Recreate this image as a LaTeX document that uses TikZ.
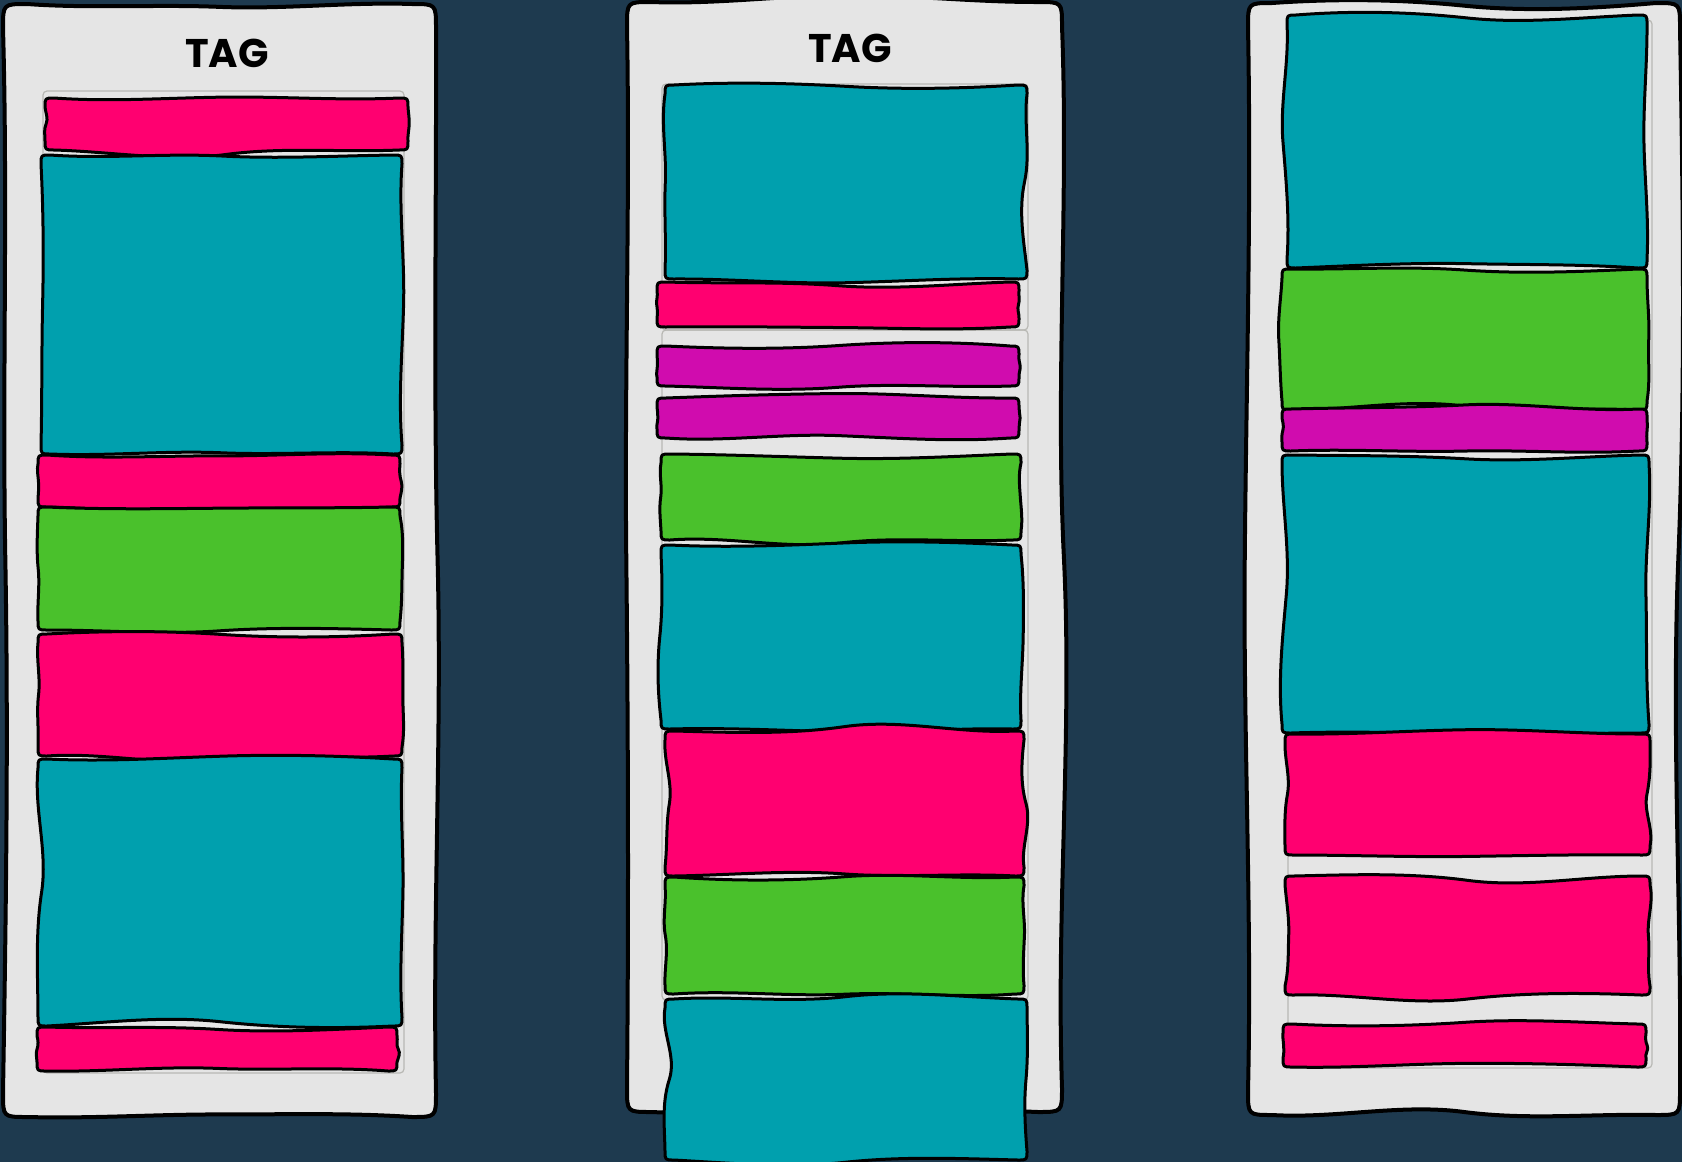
\documentclass[tikz,border=0pt]{standalone}
\usepackage{fontspec}
\setmainfont{Poppins}
\definecolor{bg}{HTML}{1E3A4F}
\definecolor{panelgray}{HTML}{E5E5E5}
\definecolor{teal}{HTML}{00A0AE}
\definecolor{pink}{HTML}{FF0070}
\definecolor{grn}{HTML}{4AC12C}
\definecolor{mag}{HTML}{D00CAE}
\definecolor{guidegray}{HTML}{B8B8B4}
\tikzset{
  panel/.style={fill=panelgray, draw=black, line width=2pt, line join=round},
  blk/.style={draw=black, line width=1.5pt, line join=round},
  guide/.style={draw=guidegray, line width=0.6pt, rounded corners=2pt},
  tag/.style={font=\bfseries\fontsize{20}{24}\selectfont, text=black}
}
% #1 style, #2 x1, #3 y1, #4 x2, #5 y2, #6 corner radius, #7 wobble amplitude
\newcommand\wob[7]{%
  \pgfmathsetmacro\xa{#2}\pgfmathsetmacro\ya{#3}%
  \pgfmathsetmacro\xb{#4}\pgfmathsetmacro\yb{#5}%
  \pgfmathsetmacro\rr{#6}%
  \pgfmathsetmacro\ah{min(#7,(\xb-\xa)/25)}\pgfmathsetmacro\av{min(#7,(\yb-\ya)/30)}%
  \pgfmathsetmacro\w{(\xb-\xa-2*\rr)/6}\pgfmathsetmacro\h{(\yb-\ya-2*\rr)/6}%
  \pgfmathsetmacro\ta{\ah*rand}\pgfmathsetmacro\tb{\ah*rand}\pgfmathsetmacro\tm{\ah*rand}\pgfmathsetmacro\tc{\ah*rand}\pgfmathsetmacro\td{2*\tm-\tb}%
  \pgfmathsetmacro\ra{\av*rand}\pgfmathsetmacro\rb{\av*rand}\pgfmathsetmacro\rm{\av*rand}\pgfmathsetmacro\rc{\av*rand}\pgfmathsetmacro\rd{2*\rm-\rb}%
  \pgfmathsetmacro\ba{\ah*rand}\pgfmathsetmacro\bb{\ah*rand}\pgfmathsetmacro\bm{\ah*rand}\pgfmathsetmacro\bc{\ah*rand}\pgfmathsetmacro\bd{2*\bm-\bb}%
  \pgfmathsetmacro\la{\av*rand}\pgfmathsetmacro\lb{\av*rand}\pgfmathsetmacro\lm{\av*rand}\pgfmathsetmacro\lc{\av*rand}\pgfmathsetmacro\ld{2*\lm-\lb}%
  \path[#1] (\xa+\rr,\ya)
    .. controls (\xa+\rr+\w,\ya+\ta) and (\xa+\rr+2*\w,\ya+\tb) .. (\xa+\rr+3*\w,\ya+\tm)
    .. controls (\xa+\rr+4*\w,\ya+\td) and (\xa+\rr+5*\w,\ya+\tc) .. (\xb-\rr,\ya)
    .. controls (\xb,\ya) .. (\xb,\ya+\rr)
    .. controls (\xb+\ra,\ya+\rr+\h) and (\xb+\rb,\ya+\rr+2*\h) .. (\xb+\rm,\ya+\rr+3*\h)
    .. controls (\xb+\rd,\ya+\rr+4*\h) and (\xb+\rc,\ya+\rr+5*\h) .. (\xb,\yb-\rr)
    .. controls (\xb,\yb) .. (\xb-\rr,\yb)
    .. controls (\xb-\rr-\w,\yb+\ba) and (\xb-\rr-2*\w,\yb+\bb) .. (\xb-\rr-3*\w,\yb+\bm)
    .. controls (\xb-\rr-4*\w,\yb+\bd) and (\xb-\rr-5*\w,\yb+\bc) .. (\xa+\rr,\yb)
    .. controls (\xa,\yb) .. (\xa,\yb-\rr)
    .. controls (\xa+\la,\yb-\rr-\h) and (\xa+\lb,\yb-\rr-2*\h) .. (\xa+\lm,\yb-\rr-3*\h)
    .. controls (\xa+\ld,\yb-\rr-4*\h) and (\xa+\lc,\yb-\rr-5*\h) .. (\xa,\ya+\rr)
    .. controls (\xa,\ya) .. (\xa+\rr,\ya) -- cycle;%
}
\newcommand\myblk[5]{\wob{blk,fill=#1}{#2}{#3}{#4}{#5}{9}{4.5}}
\newcommand\mypanel[4]{\wob{panel}{#1}{#2}{#3}{#4}{24}{7}}
\begin{document}
\pgfmathsetseed{11}
\begin{tikzpicture}[x=0.5pt,y=-0.5pt]
\useasboundingbox (0,0) rectangle (1682,1162);
\fill[bg] (0,0) rectangle (1682,1162);
\begin{scope}
\clip (0,0) rectangle (1682,1162);
% ---------- column 1 ----------
\mypanel{3}{4}{436}{1117}
\node[tag] (tag1) at (227,53) {TAG};
\draw[guide] (43,91) rectangle (404,1073);
\myblk{pink}{45}{98}{408}{150}
\myblk{teal}{41}{155}{402}{454}
\myblk{pink}{38}{455}{400}{507}
\myblk{grn}{38}{507}{400}{630}
\myblk{pink}{38}{634}{402}{756}
\myblk{teal}{38}{759}{402}{1026}
\myblk{pink}{37}{1027}{397}{1071}
% ---------- column 2 ----------
\mypanel{627}{2}{1062}{1112}
\node[tag] (tag2) at (850,48) {TAG};
\draw[guide] (662,84) rectangle (1028,330);
\draw[guide] (662,330) rectangle (1028,1000);
\myblk{teal}{665}{85}{1027}{279}
\myblk{pink}{657}{282}{1019}{327}
\myblk{mag}{657}{346}{1019}{386}
\myblk{mag}{657}{398}{1019}{438}
\myblk{grn}{661}{454}{1021}{540}
\myblk{teal}{661}{545}{1021}{729}
\myblk{pink}{665}{731}{1024}{876}
\myblk{grn}{665}{877}{1024}{994}
\myblk{teal}{665}{999}{1027}{1160}
% ---------- column 3 ----------
\mypanel{1248}{3}{1680}{1115}
\draw[guide] (1288,20) rectangle (1652,1068);
\myblk{teal}{1287}{15}{1647}{268}
\myblk{grn}{1282}{269}{1647}{410}
\myblk{mag}{1282}{409}{1647}{451}
\myblk{teal}{1282}{455}{1649}{733}
\myblk{pink}{1285}{734}{1650}{855}
\myblk{pink}{1285}{876}{1650}{995}
\myblk{pink}{1283}{1024}{1646}{1067}
\end{scope}
\end{tikzpicture}
\end{document}
